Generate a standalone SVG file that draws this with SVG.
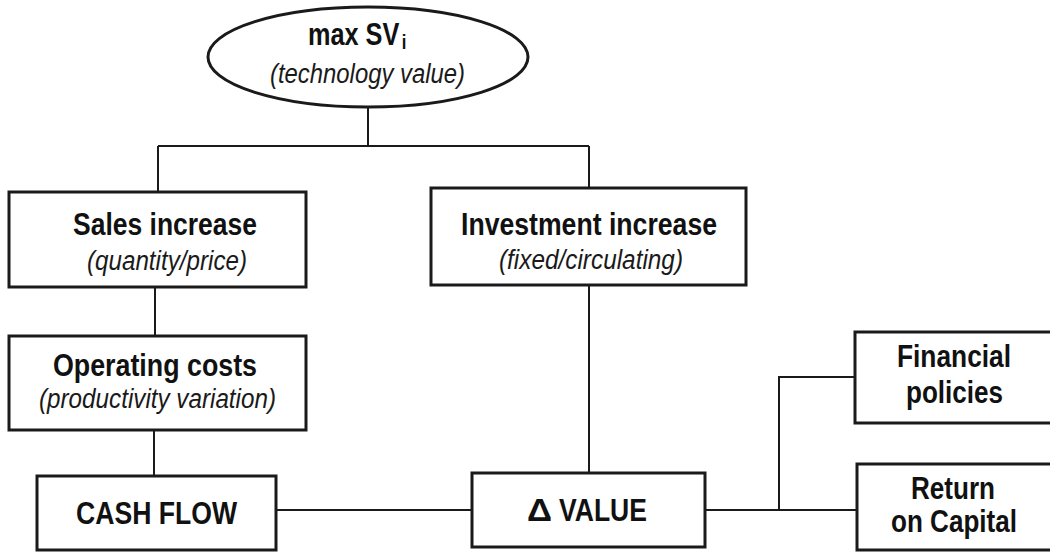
<svg xmlns="http://www.w3.org/2000/svg" width="1050" height="552" viewBox="0 0 1050 552">
  <style>
    .box { fill: #ffffff; stroke: #1a1a1a; stroke-width: 3; }
    .link { fill: none; stroke: #1a1a1a; stroke-width: 2; }
    .title { font-family: "Liberation Sans", Arial, sans-serif; font-weight: bold; font-size: 32px; fill: #111111; text-anchor: start; }
    .sub { font-family: "Liberation Sans", Arial, sans-serif; font-style: italic; font-size: 27px; fill: #1a1a1a; text-anchor: start; }
  </style>
  <rect width="1050" height="552" fill="#ffffff"/>

  <g id="connectors">
    <path class="link" d="M368,107 V146"/>
    <path class="link" d="M158,146 H589"/>
    <path class="link" d="M158,146 V192"/>
    <path class="link" d="M589,146 V188"/>
    <path class="link" d="M155,287 V336"/>
    <path class="link" d="M154,430 V476"/>
    <path class="link" d="M589,285 V473"/>
    <path class="link" d="M276,510 H472"/>
    <path class="link" d="M705,510 H857"/>
    <path class="link" d="M779,510 V377 H855"/>
  </g>

  <g id="node-max-sv">
    <ellipse class="box" cx="368" cy="57" rx="160" ry="50"/>
    <!-- condensed title with subscript i -->
    <text class="title" transform="translate(308,45) scale(0.79,1)">max SV<tspan font-size="21" dx="3" dy="4">i</tspan></text>
    <text class="sub" x="270" y="83" textLength="195" lengthAdjust="spacingAndGlyphs">(technology value)</text>
  </g>

  <g id="node-sales">
    <rect class="box" x="9" y="192" width="297" height="95"/>
    <text class="title" x="73" y="235" textLength="184" lengthAdjust="spacingAndGlyphs">Sales increase</text>
    <text class="sub" x="87" y="270" textLength="160" lengthAdjust="spacingAndGlyphs">(quantity/price)</text>
  </g>

  <g id="node-investment">
    <rect class="box" x="431" y="188" width="315" height="97"/>
    <text class="title" x="461" y="235" textLength="256" lengthAdjust="spacingAndGlyphs">Investment increase</text>
    <text class="sub" x="499" y="269" textLength="184" lengthAdjust="spacingAndGlyphs">(fixed/circulating)</text>
  </g>

  <g id="node-operating">
    <rect class="box" x="9" y="336" width="297" height="94"/>
    <text class="title" x="53" y="376" textLength="204" lengthAdjust="spacingAndGlyphs">Operating costs</text>
    <text class="sub" x="39" y="408" textLength="237" lengthAdjust="spacingAndGlyphs">(productivity variation)</text>
  </g>

  <g id="node-cash-flow">
    <rect class="box" x="37" y="476" width="239" height="74"/>
    <text class="title" x="76" y="524" textLength="161" lengthAdjust="spacingAndGlyphs">CASH FLOW</text>
  </g>

  <g id="node-value">
    <rect class="box" x="472" y="473" width="233" height="74"/>
    <text class="title" x="527" y="521" font-weight="normal" textLength="25" lengthAdjust="spacingAndGlyphs">Δ</text>
    <text class="title" x="559" y="521" textLength="88" lengthAdjust="spacingAndGlyphs">VALUE</text>
  </g>

  <g id="node-financial">
    <rect class="box" x="855" y="332" width="200" height="91"/>
    <text class="title" x="897" y="367" textLength="114" lengthAdjust="spacingAndGlyphs">Financial</text>
    <text class="title" x="906" y="403" textLength="97" lengthAdjust="spacingAndGlyphs">policies</text>
  </g>

  <g id="node-return">
    <rect class="box" x="857" y="464" width="200" height="86"/>
    <text class="title" x="911" y="499" font-size="28" textLength="84" lengthAdjust="spacingAndGlyphs">Return</text>
    <text class="title" x="891" y="532" font-size="28" textLength="126" lengthAdjust="spacingAndGlyphs">on Capital</text>
  </g>
</svg>
